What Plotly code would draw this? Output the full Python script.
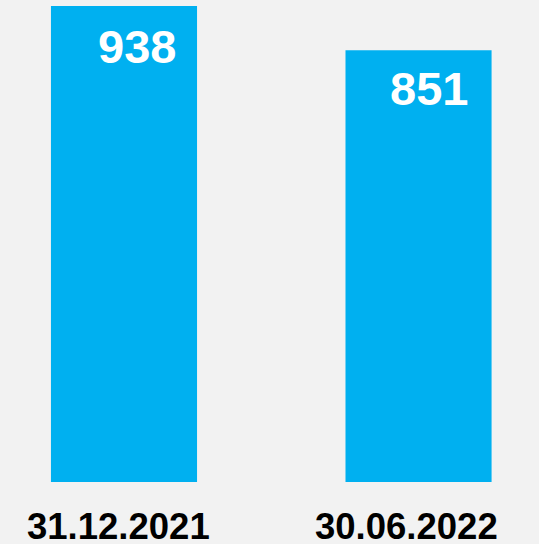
import plotly.graph_objects as go

categories = ["31.12.2021", "30.06.2022"]
values = [938, 851]
value_labels = ["938", "851"]

BAR = "#00b0f0"
BG = "#f2f2f2"
FONT = "Arial, Liberation Sans, sans-serif"

fig = go.Figure()
fig.add_trace(go.Bar(
    x=categories, y=values, width=0.496,
    marker=dict(color=BAR, line=dict(width=0)),
    hoverinfo="skip",
))

label_shift = [13, 10]
label_yshift = [-41, -38]
for c, v, t, s, ys in zip(categories, values, value_labels, label_shift, label_yshift):
    fig.add_annotation(x=c, y=v, xref="x", yref="y", text="<b>%s</b>" % t,
                       showarrow=False, xanchor="center", yanchor="middle",
                       xshift=s, yshift=ys,
                       font=dict(family=FONT, size=47, color="white"))

cat_shift = [-6, -12]
for c, s in zip(categories, cat_shift):
    fig.add_annotation(x=c, y=0, xref="x", yref="y", text="<b>%s</b>" % c,
                       showarrow=False, xanchor="center", yanchor="middle",
                       xshift=s, yshift=-45,
                       font=dict(family=FONT, size=36.5, color="black"))

fig.update_layout(
    width=539, height=544,
    margin=dict(l=0, r=0, t=0, b=0),
    paper_bgcolor=BG, plot_bgcolor=BG,
    showlegend=False,
    hovermode=False,
    xaxis=dict(type="category", range=[-0.421, 1.409], visible=False, fixedrange=True),
    yaxis=dict(range=[-122.2, 949.8], visible=False, fixedrange=True),
)

fig.write_html(
    "out.html",
    config={"displayModeBar": False, "staticPlot": True},
    post_script="document.body.style.margin='0';document.body.style.background='%s';document.body.style.overflow='hidden';" % BG,
)
